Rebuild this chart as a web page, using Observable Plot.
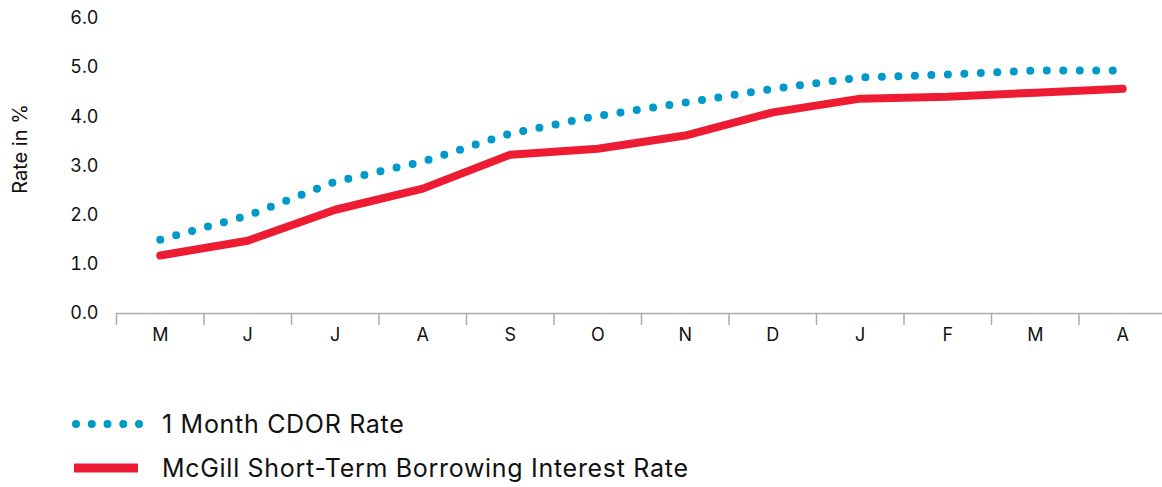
<!DOCTYPE html>
<html>
<head>
<meta charset="utf-8">
<script src="https://cdn.jsdelivr.net/npm/d3@7"></script>
<script src="https://cdn.jsdelivr.net/npm/@observablehq/plot@0.6"></script>
<style>
  html, body { margin: 0; padding: 0; background: #fff; }
  #chart { position: relative; width: 1162px; height: 487px; overflow: hidden; }
  .legend { position: relative; height: 97px; font-family: Inter, "Liberation Sans", sans-serif; font-size: 25px; letter-spacing: 0.7px; color: #111; }
  .row { position: absolute; left: 70px; display: flex; align-items: center; height: 40px; }
  .row svg { margin-right: 18px; }
</style>
</head>
<body>
<div id="chart"></div>
<script>
const months = ["M","J","J","A","S","O","N","D","J","F","M","A"];
const cdor = [1.50, 1.99, 2.68, 3.09, 3.66, 4.02, 4.29, 4.57, 4.80, 4.86, 4.94, 4.94];
const mcgill = [1.18, 1.48, 2.11, 2.54, 3.23, 3.35, 3.62, 4.09, 4.37, 4.41, 4.49, 4.57];
const yTicks = [0, 1, 2, 3, 4, 5, 6];
const yLabel = "Rate in %";
const seriesNames = ["1 Month CDOR Rate", "McGill Short-Term Borrowing Interest Rate"];

const blue = "#0099cc";
const red = "#ed1c33";

const idx = d3.range(months.length);
const cdorData = idx.map(i => ({x: i + 0.5, y: cdor[i]}));
const mcgillData = idx.map(i => ({x: i + 0.5, y: mcgill[i]}));

const plot = Plot.plot({
  width: 1162,
  height: 390,
  marginLeft: 116,
  marginRight: -4,
  marginTop: 18,
  marginBottom: 77,
  style: { fontFamily: "Inter, 'Liberation Sans', sans-serif", fontSize: "18px", color: "#111", background: "#fff" },
  x: { domain: [0, months.length], axis: null },
  y: { domain: [0, 6], axis: null },
  marks: [
    Plot.ruleY([0], { stroke: "#aaa", strokeWidth: 1.5 }),
    Plot.axisX(idx, { tickSize: 12, stroke: "#aaa", strokeWidth: 1.5, tickFormat: () => "", label: null }),
    Plot.axisX(idx.map(i => i + 0.5), { tickSize: 0, tickPadding: 15, fontSize: 18, fill: "#111", label: null, tickFormat: d => months[Math.round(d - 0.5)] }),
    Plot.axisY(yTicks, { tickSize: 0, tickPadding: 18, fontSize: 18, fill: "#111", tickFormat: d3.format(".1f"), label: null }),
    Plot.text([yLabel], { frameAnchor: "left", textAnchor: "middle", rotate: -90, dx: -96, dy: -17, fontSize: 20, fill: "#111", text: d => d }),
    Plot.line(mcgillData, { x: "x", y: "y", stroke: red, strokeWidth: 8, strokeLinejoin: "round" }),
    Plot.line(cdorData, { x: "x", y: "y", stroke: blue, strokeWidth: 8, strokeLinecap: "round", strokeDasharray: "0,16.5" })
  ]
});

const chart = document.getElementById("chart");
chart.appendChild(plot);

const legend = document.createElement("div");
legend.className = "legend";
legend.innerHTML = `
  <div class="row" style="top:14px">
    <svg width="74" height="20"><line x1="6" y1="10" x2="70" y2="10" stroke="${blue}" stroke-width="8" stroke-linecap="round" stroke-dasharray="0,15.75"/></svg>
    <span>${seriesNames[0]}</span>
  </div>
  <div class="row" style="top:58px">
    <svg width="74" height="20"><line x1="4" y1="10" x2="68" y2="10" stroke="${red}" stroke-width="9"/></svg>
    <span>${seriesNames[1]}</span>
  </div>`;
chart.appendChild(legend);
</script>
</body>
</html>
